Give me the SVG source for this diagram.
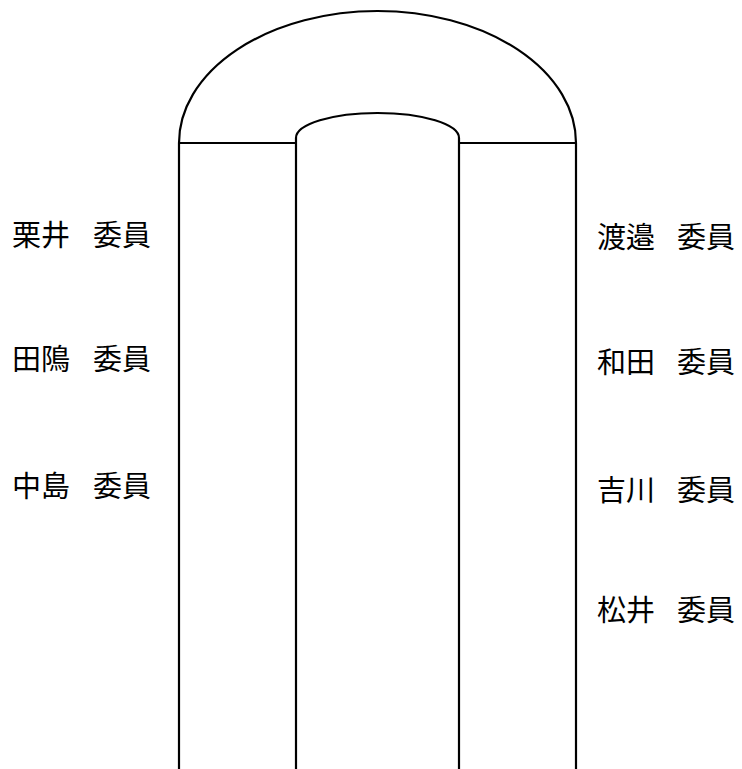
<svg xmlns="http://www.w3.org/2000/svg" width="742" height="769" viewBox="0 0 742 769">
<style>
.ln{fill:none;stroke:#000;stroke-width:2.2}
.lb{font-family:"Noto Sans CJK JP","Noto Sans CJK SC",sans-serif;font-size:29px;fill:#000}
</style>
<rect width="742" height="769" fill="#fff"/>
<g id="table">
<path class="ln" d="M179,143 A198.5,132 0 0 1 576,143"/>
<path class="ln" d="M296,143 L296,138 A81.5,25 0 0 1 459,138 L459,143"/>
<path class="ln" d="M179,143 H296 M459,143 H576"/>
<path class="ln" d="M179,143 V769 M296,143 V769 M459,143 V769 M576,143 V769"/>
</g>
<g id="left-seats">
<g id="kurii"><text class="lb" x="12" y="246">栗井</text><text class="lb" x="93" y="246">委員</text></g>
<g id="tasumi"><text class="lb" x="12" y="370">田隝</text><text class="lb" x="93" y="370">委員</text></g>
<g id="nakajima"><text class="lb" x="12" y="497">中島</text><text class="lb" x="93" y="497">委員</text></g>
</g>
<g id="right-seats">
<g id="watanabe"><text class="lb" x="597" y="248">渡邉</text><text class="lb" x="677" y="248">委員</text></g>
<g id="wada"><text class="lb" x="597" y="373">和田</text><text class="lb" x="677" y="373">委員</text></g>
<g id="yoshikawa"><text class="lb" x="597" y="501">吉川</text><text class="lb" x="677" y="501">委員</text></g>
<g id="matsui"><text class="lb" x="597" y="621">松井</text><text class="lb" x="677" y="621">委員</text></g>
</g>
</svg>
